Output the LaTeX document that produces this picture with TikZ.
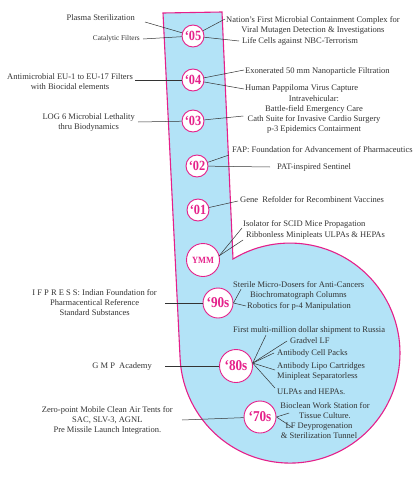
\documentclass[tikz,border=0pt]{standalone}
\usepackage{fontspec}
\setmainfont{Liberation Serif}
\usepackage{graphicx}
\usepackage{xcolor}
\definecolor{ink}{HTML}{333333}
\definecolor{rose}{HTML}{E5208A}
\definecolor{sky}{HTML}{B3E3F7}
\usepackage{tikz}
\usetikzlibrary{positioning}

\newcommand{\yearmark}[1]{\scalebox{0.88}[1]{#1}}

\begin{document}
\begin{tikzpicture}[
  x=1pt, y=-1pt,
  font=\fontsize{8.5}{10}\selectfont,
  every node/.style={align=center, text=ink},
  note/.style={inner sep=1pt},
  small/.style={note, font=\fontsize{7.3}{9}\selectfont},
  year/.style={circle, draw=rose, fill=white, line width=0.9pt, inner sep=0pt,
    minimum size=22pt, text=rose, font=\fontsize{14}{14}\selectfont\bfseries},
  decade/.style={year, minimum size=32pt, font=\fontsize{15}{15}\selectfont\bfseries},
  wire/.style={draw=ink, line width=0.5pt},
]
  \useasboundingbox (0,0) rectangle (417,482);

  % timeline band and drop
  \path[draw=rose, fill=sky, line width=1.1pt, line join=miter]
    (163,13) -- (222,12) -- (233,259)
    arc[start angle=-121.2, end angle=177.1, radius=110] -- cycle;

  % year markers
  \node[year] (y05) at (193,36) {\yearmark{`05}};
  \node[year] (y04) at (193,80) {\yearmark{`04}};
  \node[year] (y03) at (193,121) {\yearmark{`03}};
  \node[year] (y02) at (197,166) {\yearmark{`02}};
  \node[year] (y01) at (198,210) {\yearmark{`01}};
  \node[decade, minimum size=33pt, font=\fontsize{9.5}{10}\selectfont\bfseries] (ymm) at (203,260) {\yearmark{YMM}};
  \node[decade, minimum size=30pt] (y90) at (218,303) {\yearmark{`90s}};
  \node[decade, minimum size=33pt] (y80) at (236,366) {\yearmark{`80s}};
  \node[decade] (y70) at (260,417) {\yearmark{`70s}};

  % left notes
  \node[note, anchor=east] (plasma) at (136,18) {Plasma Sterilization};
  \node[small, anchor=east] (catalytic) at (141,39) {Catalytic Filters};
  \node[note, anchor=east] (antimicro) at (134,81.5) {Antimicrobial EU-1 to EU-17 Filters\\with Biocidal elements};
  \node[note, anchor=east] (lethal) at (136,122) {LOG 6 Microbial Lethality\\thru Biodynamics};
  \node[note, anchor=east] (ifpress) at (158,303) {I F P R E S S: Indian Foundation for\\Pharmacentical Reference\\Standard Substances};
  \node[note, anchor=east] (gmp) at (153,366) {G M P\ \ Academy};
  \node[note, anchor=east] (tents) at (174,420) {Zero-point Mobile Clean Air Tents for\\SAC, SLV-3, AGNL\\Pre Missile Launch Integration.};

  % right notes
  \node[note] (nation) at (313,25) {Nation's First Microbial Containment Complex for\\Viral Mutagen Detection \& Investigations};
  \node[note, anchor=west] (lifecells) at (241,41) {Life Cells against NBC-Terrorism};
  \node[note, anchor=west] (exonerated) at (244,71) {Exonerated 50 mm Nanoparticle Filtration};
  \node[note, anchor=west] (pappiloma) at (244,88) {Human Pappiloma Virus Capture};
  \node[note] (intra) at (314,114.5) {Intravehicular:\\Battle-field Emergency Care\\Cath Suite for Invasive Cardio Surgery\\p-3 Epidemics Contairment};
  \node[note, anchor=west] (fap) at (231,150) {FAP: Foundation for Advancement of Pharmaceutics};
  \node[note, anchor=west] (sentinel) at (276,167) {PAT-inspired Sentinel};
  \node[note, anchor=west] (refolder) at (239,200) {Gene\ \ Refolder for Recombinent Vaccines};
  \node[note, anchor=west] (isolator) at (242,224) {Isolator for SCID Mice Propagation};
  \node[note, anchor=west] (ribbonless) at (245,235) {Ribbonless Minipleats ULPAs \& HEPAs};
  \node[note, anchor=west] (dosers) at (232,285) {Sterile Micro-Dosers for Anti-Cancers};
  \node[note, anchor=west] (columns) at (249,295) {Biochromatograph Columns};
  \node[note, anchor=west] (robotics) at (246,306) {Robotics for p-4 Manipulation};
  \node[note, anchor=west] (russia) at (232,330) {First multi-million dollar shipment to Russia};
  \node[note, anchor=west] (gradvel) at (289,341) {Gradvel LF};
  \node[note, anchor=west] (cellpacks) at (276,353) {Antibody Cell Packs};
  \node[note, anchor=west, align=left] (lipo) at (276,371) {Antibody Lipo Cartridges\\Minipleat Separatorless};
  \node[note, anchor=west] (ulpas) at (276,392) {ULPAs and HEPAs.};
  \node[note] (bioclean) at (325,411) {Bioclean Work Station for\\Tissue Culture.};
  \node[note] (lfdey) at (319,431) {LF Deyprogenation\\\& Sterilization Tunnel};

  % connectors, left
  \draw[wire] ([xshift=9pt,yshift=-4pt]plasma.east) -- (y05);
  \draw[wire] ([xshift=2pt]catalytic.east) -- (y05);
  \draw[wire] ([xshift=1pt,yshift=1.5pt]antimicro.east) -- (y04);
  \draw[wire] ([xshift=2pt]lethal.east) -- (y03);
  \draw[wire] ([xshift=7pt]ifpress.east) -- (y90);
  \draw[wire] ([xshift=12pt]gmp.east) -- (y80);
  \draw[wire] ([xshift=8pt]tents.east) -- (y70);

  % connectors, right
  \draw[wire] (y05) -- ([yshift=6pt]nation.west);
  \draw[wire] (y05) -- ([xshift=-2pt]lifecells.west);
  \draw[wire] (y04) -- ([yshift=1pt]exonerated.west);
  \draw[wire] (y04) -- ([yshift=-1pt]pappiloma.west);
  \draw[wire] (y03) -- ([xshift=-3pt,yshift=-1.5pt]intra.west);
  \draw[wire] (y02) -- ([xshift=-2pt,yshift=-5pt]fap.west);
  \draw[wire] (y02) -- ([xshift=-6pt]sentinel.west);
  \draw[wire] (y01) -- ([xshift=-1pt,yshift=-1pt]refolder.west);
  \draw[wire] (ymm.15) -- ([yshift=-4pt]isolator.west);
  \draw[wire] (ymm.15) -- ([xshift=-2pt,yshift=-5pt]ribbonless.west);
  \draw[wire] (y90.east) -- ([xshift=9pt]dosers.south west);
  \draw[wire] (y90.east) -- (robotics.west);
  \draw[wire] (y80.10) -- ([xshift=34pt]russia.south west);
  \draw[wire] (y80.10) -- ([xshift=-2pt]gradvel.west);
  \draw[wire] (y80.10) -- ([xshift=-2pt]cellpacks.west);
  \draw[wire] (y80.10) -- ([xshift=-1pt,yshift=1pt]lipo.west);
  \draw[wire] (y80.10) -- ([xshift=-1pt,yshift=4pt]ulpas.west);
  \draw[wire] (y70.east) -- ([xshift=10pt,yshift=-2pt]bioclean.west);
  \draw[wire] (y70.east) -- ([xshift=12pt,yshift=4pt]lfdey.west);
\end{tikzpicture}
\end{document}
